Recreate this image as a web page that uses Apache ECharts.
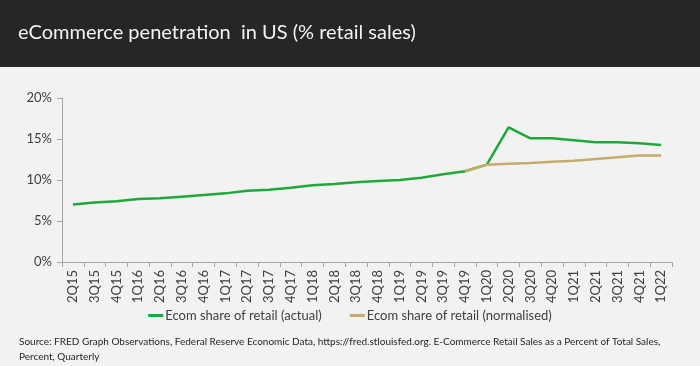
<!DOCTYPE html>
<html>
<head>
<meta charset="utf-8">
<script src="https://cdn.jsdelivr.net/npm/echarts@6/dist/echarts.min.js"></script>
<style>
html,body{margin:0;padding:0;background:#f2f2f2;}
#c{width:700px;height:366px;}
</style>
</head>
<body>
<div id="c"></div>
<script>
const categories = ['2Q15','3Q15','4Q15','1Q16','2Q16','3Q16','4Q16','1Q17','2Q17','3Q17','4Q17','1Q18','2Q18','3Q18','4Q18','1Q19','2Q19','3Q19','4Q19','1Q20','2Q20','3Q20','4Q20','1Q21','2Q21','3Q21','4Q21','1Q22'];
const actual = [7.0, 7.25, 7.4, 7.68, 7.76, 7.97, 8.17, 8.37, 8.7, 8.82, 9.06, 9.35, 9.51, 9.73, 9.88, 10.0, 10.28, 10.69, 11.06, 11.87, 16.43, 15.08, 15.08, 14.84, 14.6, 14.6, 14.47, 14.27];
const normalised = [null,null,null,null,null,null,null,null,null,null,null,null,null,null,null,null,null,null, 11.06, 11.87, 11.99, 12.07, 12.24, 12.36, 12.56, 12.76, 13.0, 13.0];
const yTicks = [0, 5, 10, 15, 20];

const FONT = 'Lato';
const chart = echarts.init(document.getElementById('c'));
chart.setOption({
  backgroundColor: '#f2f2f2',
  animation: false,
  textStyle: { fontFamily: FONT },
  graphic: [
    { type: 'rect', left: 0, top: 0, shape: { width: 700, height: 67 }, style: { fill: '#262626' }, z: 0 },
    { type: 'text', left: 18, top: 23, style: { text: 'eCommerce penetration  in US (% retail sales)', fill: '#f2f2f2', font: '20px ' + FONT } },
    { type: 'text', left: 19, top: 334, style: { text: 'Source: FRED Graph Observations, Federal Reserve Economic Data, https://fred.stlouisfed.org. E-Commerce Retail Sales as a Percent of Total Sales,\nPercent, Quarterly', fill: '#262626', font: '10px ' + FONT, lineHeight: 15 } }
  ],
  legend: {
    left: 'center', top: 304,
    itemWidth: 15, itemHeight: 3, itemGap: 28,
    icon: 'rect',
    textStyle: { fontSize: 13, color: '#404040', fontFamily: FONT, padding: [0,0,0,-3] },
    data: ['Ecom share of retail (actual)', 'Ecom share of retail (normalised)']
  },
  grid: { left: 62, right: 28, top: 98, bottom: 104, containLabel: false },
  xAxis: {
    type: 'category',
    data: categories,
    boundaryGap: true,
    axisLine: { lineStyle: { color: '#a6a6a6', width: 1 } },
    axisTick: { show: true, interval: 0, length: 5, lineStyle: { color: '#a6a6a6' } },
    axisLabel: { interval: 0, rotate: 90, fontSize: 13, color: '#404040', margin: 8, fontFamily: FONT },
    splitLine: { show: false }
  },
  yAxis: {
    type: 'value',
    min: yTicks[0], max: yTicks[yTicks.length - 1], interval: 5,
    axisLine: { show: true, lineStyle: { color: '#a6a6a6', width: 1 } },
    axisTick: { show: true, length: 5, lineStyle: { color: '#a6a6a6' } },
    axisLabel: { formatter: '{value}%', fontSize: 13, color: '#404040', margin: 10, fontFamily: FONT },
    splitLine: { show: false }
  },
  series: [
    { name: 'Ecom share of retail (actual)', type: 'line', data: actual, symbol: 'none', color: '#1fa83a', lineStyle: { width: 2.5, color: '#1fa83a' }, z: 2 },
    { name: 'Ecom share of retail (normalised)', type: 'line', data: normalised, symbol: 'none', color: '#c4ad6a', lineStyle: { width: 2.5, color: '#c4ad6a' }, z: 3 }
  ]
});
</script>
</body>
</html>
